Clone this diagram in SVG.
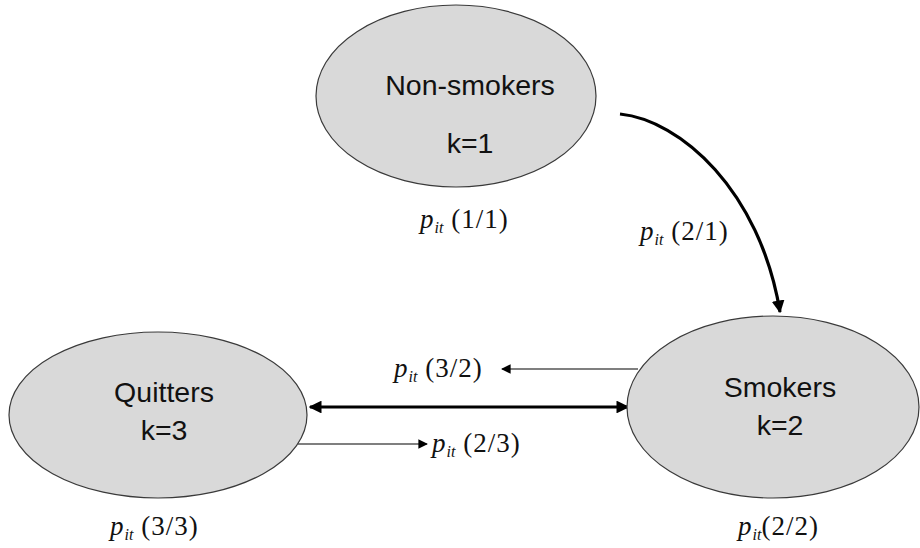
<svg xmlns="http://www.w3.org/2000/svg" width="920" height="548" viewBox="0 0 920 548">
<style>
.node{fill:#d9d9d9;stroke:#3a3a3a;stroke-width:1.2}
.lbl{font-family:"Liberation Sans",Arial,sans-serif;font-size:28.5px;fill:#111;text-anchor:middle}
.p{font-family:"Liberation Serif","Times New Roman",serif;font-size:27px;fill:#111;letter-spacing:1px}
.i{font-style:italic}
.sub{font-style:italic;font-size:16px;letter-spacing:0}
.thick{stroke:#000;stroke-width:3.2;fill:none}
.thin{stroke:#000;stroke-width:1.2;fill:none}
</style>
<defs>
<marker id="ah" viewBox="0 0 10 10" refX="9" refY="5" markerWidth="4" markerHeight="4" orient="auto-start-reverse" markerUnits="strokeWidth"><path d="M0,0 L10,5 L0,10 z" fill="#000"/></marker>
<marker id="ahs" viewBox="0 0 10 10" refX="9" refY="5" markerWidth="10" markerHeight="8" orient="auto" markerUnits="strokeWidth"><path d="M0,0 L10,5 L0,10 z" fill="#000"/></marker>
</defs>
<rect width="920" height="548" fill="#fff"/>
<g id="connectors">
<path class="thick" d="M620,114 C680,120 760,190 780,312" marker-end="url(#ah)"/>
<line class="thick" x1="310" y1="407" x2="628" y2="407" marker-start="url(#ah)" marker-end="url(#ah)"/>
<line class="thin" x1="638" y1="369" x2="502" y2="369" marker-end="url(#ahs)"/>
<line class="thin" x1="298" y1="444" x2="427" y2="444" marker-end="url(#ahs)"/>
</g>
<g id="nonsmokers">
<ellipse class="node" cx="456" cy="96" rx="140" ry="91"/>
<text class="lbl" x="470" y="95">Non-smokers</text>
<text class="lbl" x="470" y="153">k=1</text>
</g>
<g id="smokers">
<ellipse class="node" cx="773" cy="407" rx="146" ry="91"/>
<text class="lbl" x="780" y="397">Smokers</text>
<text class="lbl" x="780" y="435">k=2</text>
</g>
<g id="quitters">
<ellipse class="node" cx="158" cy="415" rx="149" ry="83"/>
<text class="lbl" x="164" y="402">Quitters</text>
<text class="lbl" x="164" y="440">k=3</text>
</g>
<g id="labels">
<text class="p" x="420" y="228"><tspan class="i">p</tspan><tspan class="sub" dy="5">it</tspan><tspan dy="-5"> (1/1)</tspan></text>
<text class="p" x="640" y="240"><tspan class="i">p</tspan><tspan class="sub" dy="5">it</tspan><tspan dy="-5"> (2/1)</tspan></text>
<text class="p" x="394" y="377"><tspan class="i">p</tspan><tspan class="sub" dy="5">it</tspan><tspan dy="-5"> (3/2)</tspan></text>
<text class="p" x="432" y="452"><tspan class="i">p</tspan><tspan class="sub" dy="5">it</tspan><tspan dy="-5"> (2/3)</tspan></text>
<text class="p" x="110" y="535"><tspan class="i">p</tspan><tspan class="sub" dy="5">it</tspan><tspan dy="-5"> (3/3)</tspan></text>
<text class="p" x="738" y="535"><tspan class="i">p</tspan><tspan class="sub" dy="5">it</tspan><tspan dy="-5">(2/2)</tspan></text>
</g>
</svg>
